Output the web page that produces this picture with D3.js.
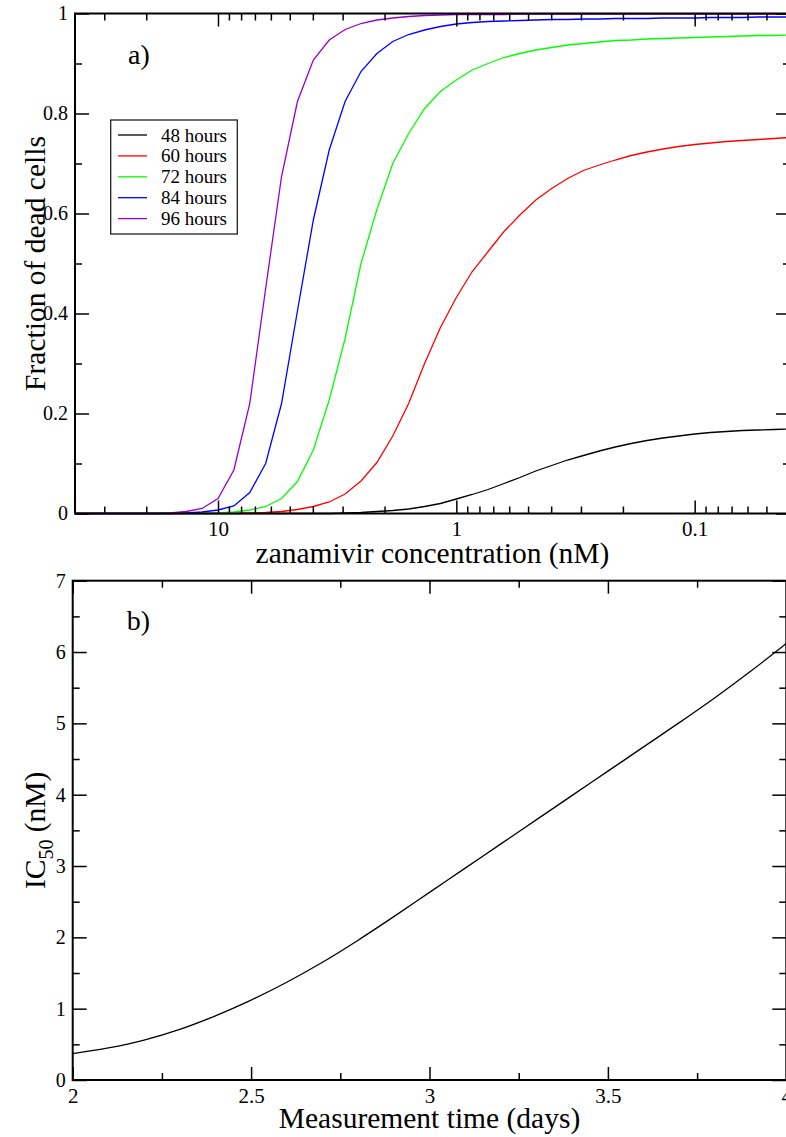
<!DOCTYPE html>
<html><head><meta charset="utf-8">
<script src="https://cdn.jsdelivr.net/npm/d3@7"></script>
<style>body{margin:0;background:#fff}svg{display:block}
svg text{font-family:'Liberation Serif','Times New Roman',Times,serif;}</style>
</head><body>
<svg id="c" width="786" height="1137"></svg>
<script>
// ---------- DATA ----------
const concentration = [39.81,34.15,29.29,25.12,21.54,18.48,15.85,13.59,11.66,10,8.577,7.356,6.310,5.412,4.642,3.981,3.415,2.929,2.512,2.154,1.848,1.585,1.359,1.166,1.0,0.8577,0.7356,0.6310,0.5412,0.4642,0.3981,0.3415,0.2929,0.2512,0.2154,0.1848,0.1585,0.1359,0.1166,0.1,0.08577,0.07356,0.06310,0.05412,0.04642,0.03981];
const dead48 = [0,0,0,0,0,0,0,0,0,0,0,0,0,0,0,0,0,0.001,0.002,0.004,0.006,0.009,0.014,0.020,0.029,0.038,0.048,0.060,0.072,0.085,0.096,0.107,0.116,0.125,0.133,0.140,0.146,0.151,0.155,0.159,0.162,0.164,0.166,0.167,0.168,0.169];
const dead60 = [0,0,0,0,0,0,0,0,0,0,0,0.001,0.002,0.004,0.008,0.014,0.023,0.039,0.065,0.102,0.155,0.220,0.300,0.372,0.432,0.484,0.524,0.564,0.597,0.627,0.650,0.670,0.686,0.697,0.707,0.716,0.723,0.729,0.734,0.738,0.741,0.744,0.746,0.748,0.750,0.752];
const dead72 = [0,0,0,0,0,0,0,0,0,0.001,0.003,0.007,0.014,0.030,0.064,0.127,0.227,0.350,0.500,0.608,0.700,0.760,0.810,0.844,0.867,0.887,0.900,0.912,0.920,0.927,0.932,0.937,0.940,0.943,0.946,0.947,0.949,0.950,0.951,0.952,0.953,0.954,0.955,0.956,0.956,0.957];
const dead84 = [0,0,0,0,0,0,0,0.001,0.003,0.007,0.015,0.042,0.100,0.220,0.405,0.587,0.727,0.824,0.884,0.920,0.944,0.958,0.967,0.974,0.979,0.982,0.984,0.985,0.986,0.987,0.988,0.988,0.989,0.989,0.990,0.990,0.990,0.991,0.991,0.991,0.992,0.992,0.992,0.993,0.993,0.993];
const dead96 = [0,0,0,0,0,0,0.001,0.004,0.010,0.030,0.087,0.220,0.450,0.674,0.824,0.907,0.947,0.968,0.980,0.987,0.991,0.994,0.996,0.997,0.998,0.998,0.998,0.998,0.999,0.999,0.999,0.999,0.999,0.999,0.999,0.999,0.999,0.999,0.999,0.999,0.999,0.999,0.999,0.999,0.999,0.999];
const seriesNames = ["48 hours","60 hours","72 hours","84 hours","96 hours"];
const seriesColors = ["#000000","#ff0000","#00ff00","#0000ff","#9400d3"];

const days = [2.0,2.1,2.2,2.3,2.4,2.5,2.6,2.7,2.8,2.9,3.0,3.1,3.2,3.3,3.4,3.5,3.6,3.7,3.8,3.9,4.0];
const ic50 = [0.37,0.45,0.56,0.71,0.90,1.12,1.37,1.65,1.96,2.29,2.63,2.97,3.31,3.65,3.99,4.33,4.67,5.01,5.36,5.73,6.12];

const xMajorA = [10,1,0.1];
const xMinorA = [30,20,9,8,7,6,5,4,3,2,0.9,0.8,0.7,0.6,0.5,0.4,0.3,0.2,0.09,0.08,0.07,0.06,0.05,0.04];
const yMajorA = [0,0.2,0.4,0.6,0.8,1];
const yMajorLabelsA = ["0","0.2","0.4","0.6","0.8","1"];
const yMinorA = [0.1,0.3,0.5,0.7,0.9];
const xMajorB = [2,2.5,3,3.5,4];
const xMinorB = [2.25,2.75,3.25,3.75];
const yMajorB = [0,1,2,3,4,5,6,7];
const yMinorB = [0.5,1.5,2.5,3.5,4.5,5.5,6.5];

// ---------- DRAW ----------
const svg = d3.select("#c");
svg.append("rect").attr("width",786).attr("height",1137).attr("fill","#fff");
const FONT = "'Liberation Serif','Times New Roman',Times,serif";

function axes(g, xs, ys, box, o){
  const [x0,x1,y0,y1] = box; // x0 left, x1 right, y0 top, y1 bottom
  const style = sel => { sel.attr("font-family",FONT); sel.select(".domain").remove();
    sel.selectAll(".tick line").attr("stroke","#000").attr("stroke-width",1.5);
    sel.selectAll(".tick text").attr("font-family",FONT).attr("fill","#000"); };
  g.append("g").attr("transform",`translate(0,${y1})`)
    .call(d3.axisBottom(xs).tickValues(o.xMaj).tickSize(-13).tickPadding(7).tickFormat(o.xFmt))
    .call(style).selectAll("text").attr("font-size",21).attr("y",8).attr("dy","0.71em");
  g.append("g").attr("transform",`translate(0,${y1})`)
    .call(d3.axisBottom(xs).tickValues(o.xMin).tickSize(-7).tickFormat("")).call(style);
  g.append("g").attr("transform",`translate(0,${y0})`)
    .call(d3.axisTop(xs).tickValues(o.xMaj).tickSize(-13).tickFormat("")).call(style);
  g.append("g").attr("transform",`translate(0,${y0})`)
    .call(d3.axisTop(xs).tickValues(o.xMin).tickSize(-7).tickFormat("")).call(style);
  g.append("g").attr("transform",`translate(${x0},0)`)
    .call(d3.axisLeft(ys).tickValues(o.yMaj).tickSize(-14).tickPadding(7).tickFormat(o.yFmt))
    .call(style).selectAll("text").attr("font-size",20);
  g.append("g").attr("transform",`translate(${x0},0)`)
    .call(d3.axisLeft(ys).tickValues(o.yMin).tickSize(-7).tickFormat("")).call(style);
  g.append("g").attr("transform",`translate(${x1},0)`)
    .call(d3.axisRight(ys).tickValues(o.yMaj).tickSize(-14).tickFormat("")).call(style);
  g.append("g").attr("transform",`translate(${x1},0)`)
    .call(d3.axisRight(ys).tickValues(o.yMin).tickSize(-7).tickFormat("")).call(style);
  g.append("rect").attr("x",x0).attr("y",y0).attr("width",x1-x0).attr("height",y1-y0)
    .attr("fill","none").attr("stroke","#000").attr("stroke-width",2);
}

// Panel a
const boxA = [75,790,13.5,513.5];
const xA = d3.scaleLog().domain([concentration[0], concentration[concentration.length-1]]).range([boxA[0],boxA[1]]);
const yA = d3.scaleLinear().domain([0,1]).range([boxA[3],boxA[2]]);
const gA = svg.append("g");
const seriesA = [dead48,dead60,dead72,dead84,dead96];
const lineA = d3.line().x((d,i)=>xA(concentration[i])).y(d=>yA(d));
gA.selectAll("path.curve").data(seriesA).join("path").attr("class","curve")
  .attr("d",lineA).attr("fill","none").attr("stroke",(d,i)=>seriesColors[i]).attr("stroke-width",1.3);
axes(gA,xA,yA,boxA,{xMaj:xMajorA,xMin:xMinorA,yMaj:yMajorA,yMin:yMinorA,
  xFmt:d=>String(d), yFmt:(d,i)=>yMajorLabelsA[i]});

// legend
const lg = gA.append("g");
lg.append("rect").attr("x",110.7).attr("y",120).attr("width",126.6).attr("height",114)
  .attr("fill","#fff").attr("stroke","#222").attr("stroke-width",1.3);
seriesNames.forEach((n,i)=>{
  const yy = 135 + i*20.9;
  lg.append("line").attr("x1",118).attr("x2",147).attr("y1",yy).attr("y2",yy)
    .attr("stroke",seriesColors[i]).attr("stroke-width",1.3);
  lg.append("text").attr("x",161).attr("y",yy+6.5).text(n)
    .attr("font-family",FONT).attr("font-size",19).attr("fill","#000");
});

gA.append("text").attr("x",128).attr("y",64).text("a)").attr("font-family",FONT).attr("font-size",28);
gA.append("text").attr("x",(boxA[0]+boxA[1])/2).attr("y",563).attr("text-anchor","middle")
  .attr("font-family",FONT).attr("font-size",29.5).text("zanamivir concentration (nM)");
gA.append("text").attr("transform",`translate(45,${(boxA[2]+boxA[3])/2}) rotate(-90)`)
  .attr("text-anchor","middle").attr("font-family",FONT).attr("font-size",29.5).text("Fraction of dead cells");

// Panel b
const boxB = [72.7,786.3,580.7,1080];
const xB = d3.scaleLinear().domain([2,4]).range([boxB[0],boxB[1]]);
const yB = d3.scaleLinear().domain([0,7]).range([boxB[3],boxB[2]]);
const gB = svg.append("g");
gB.append("path").datum(ic50)
  .attr("d",d3.line().x((d,i)=>xB(days[i])).y(d=>yB(d)).curve(d3.curveMonotoneX))
  .attr("fill","none").attr("stroke","#000").attr("stroke-width",1.3);
axes(gB,xB,yB,boxB,{xMaj:xMajorB,xMin:xMinorB,yMaj:yMajorB,yMin:yMinorB,
  xFmt:d=>String(d), yFmt:d=>String(d)});
gB.append("text").attr("x",126.7).attr("y",630).text("b)").attr("font-family",FONT).attr("font-size",28);
gB.append("text").attr("x",(boxB[0]+boxB[1])/2).attr("y",1128).attr("text-anchor","middle")
  .attr("font-family",FONT).attr("font-size",29.5).text("Measurement time (days)");
const yt = gB.append("text").attr("transform",`translate(45,${(boxB[2]+boxB[3])/2}) rotate(-90)`)
  .attr("text-anchor","middle").attr("font-family",FONT).attr("font-size",29.5);
yt.append("tspan").text("IC");
yt.append("tspan").attr("font-size",20).attr("dy",8).text("50");
yt.append("tspan").attr("dy",-8).text(" (nM)");
</script>
</body></html>
